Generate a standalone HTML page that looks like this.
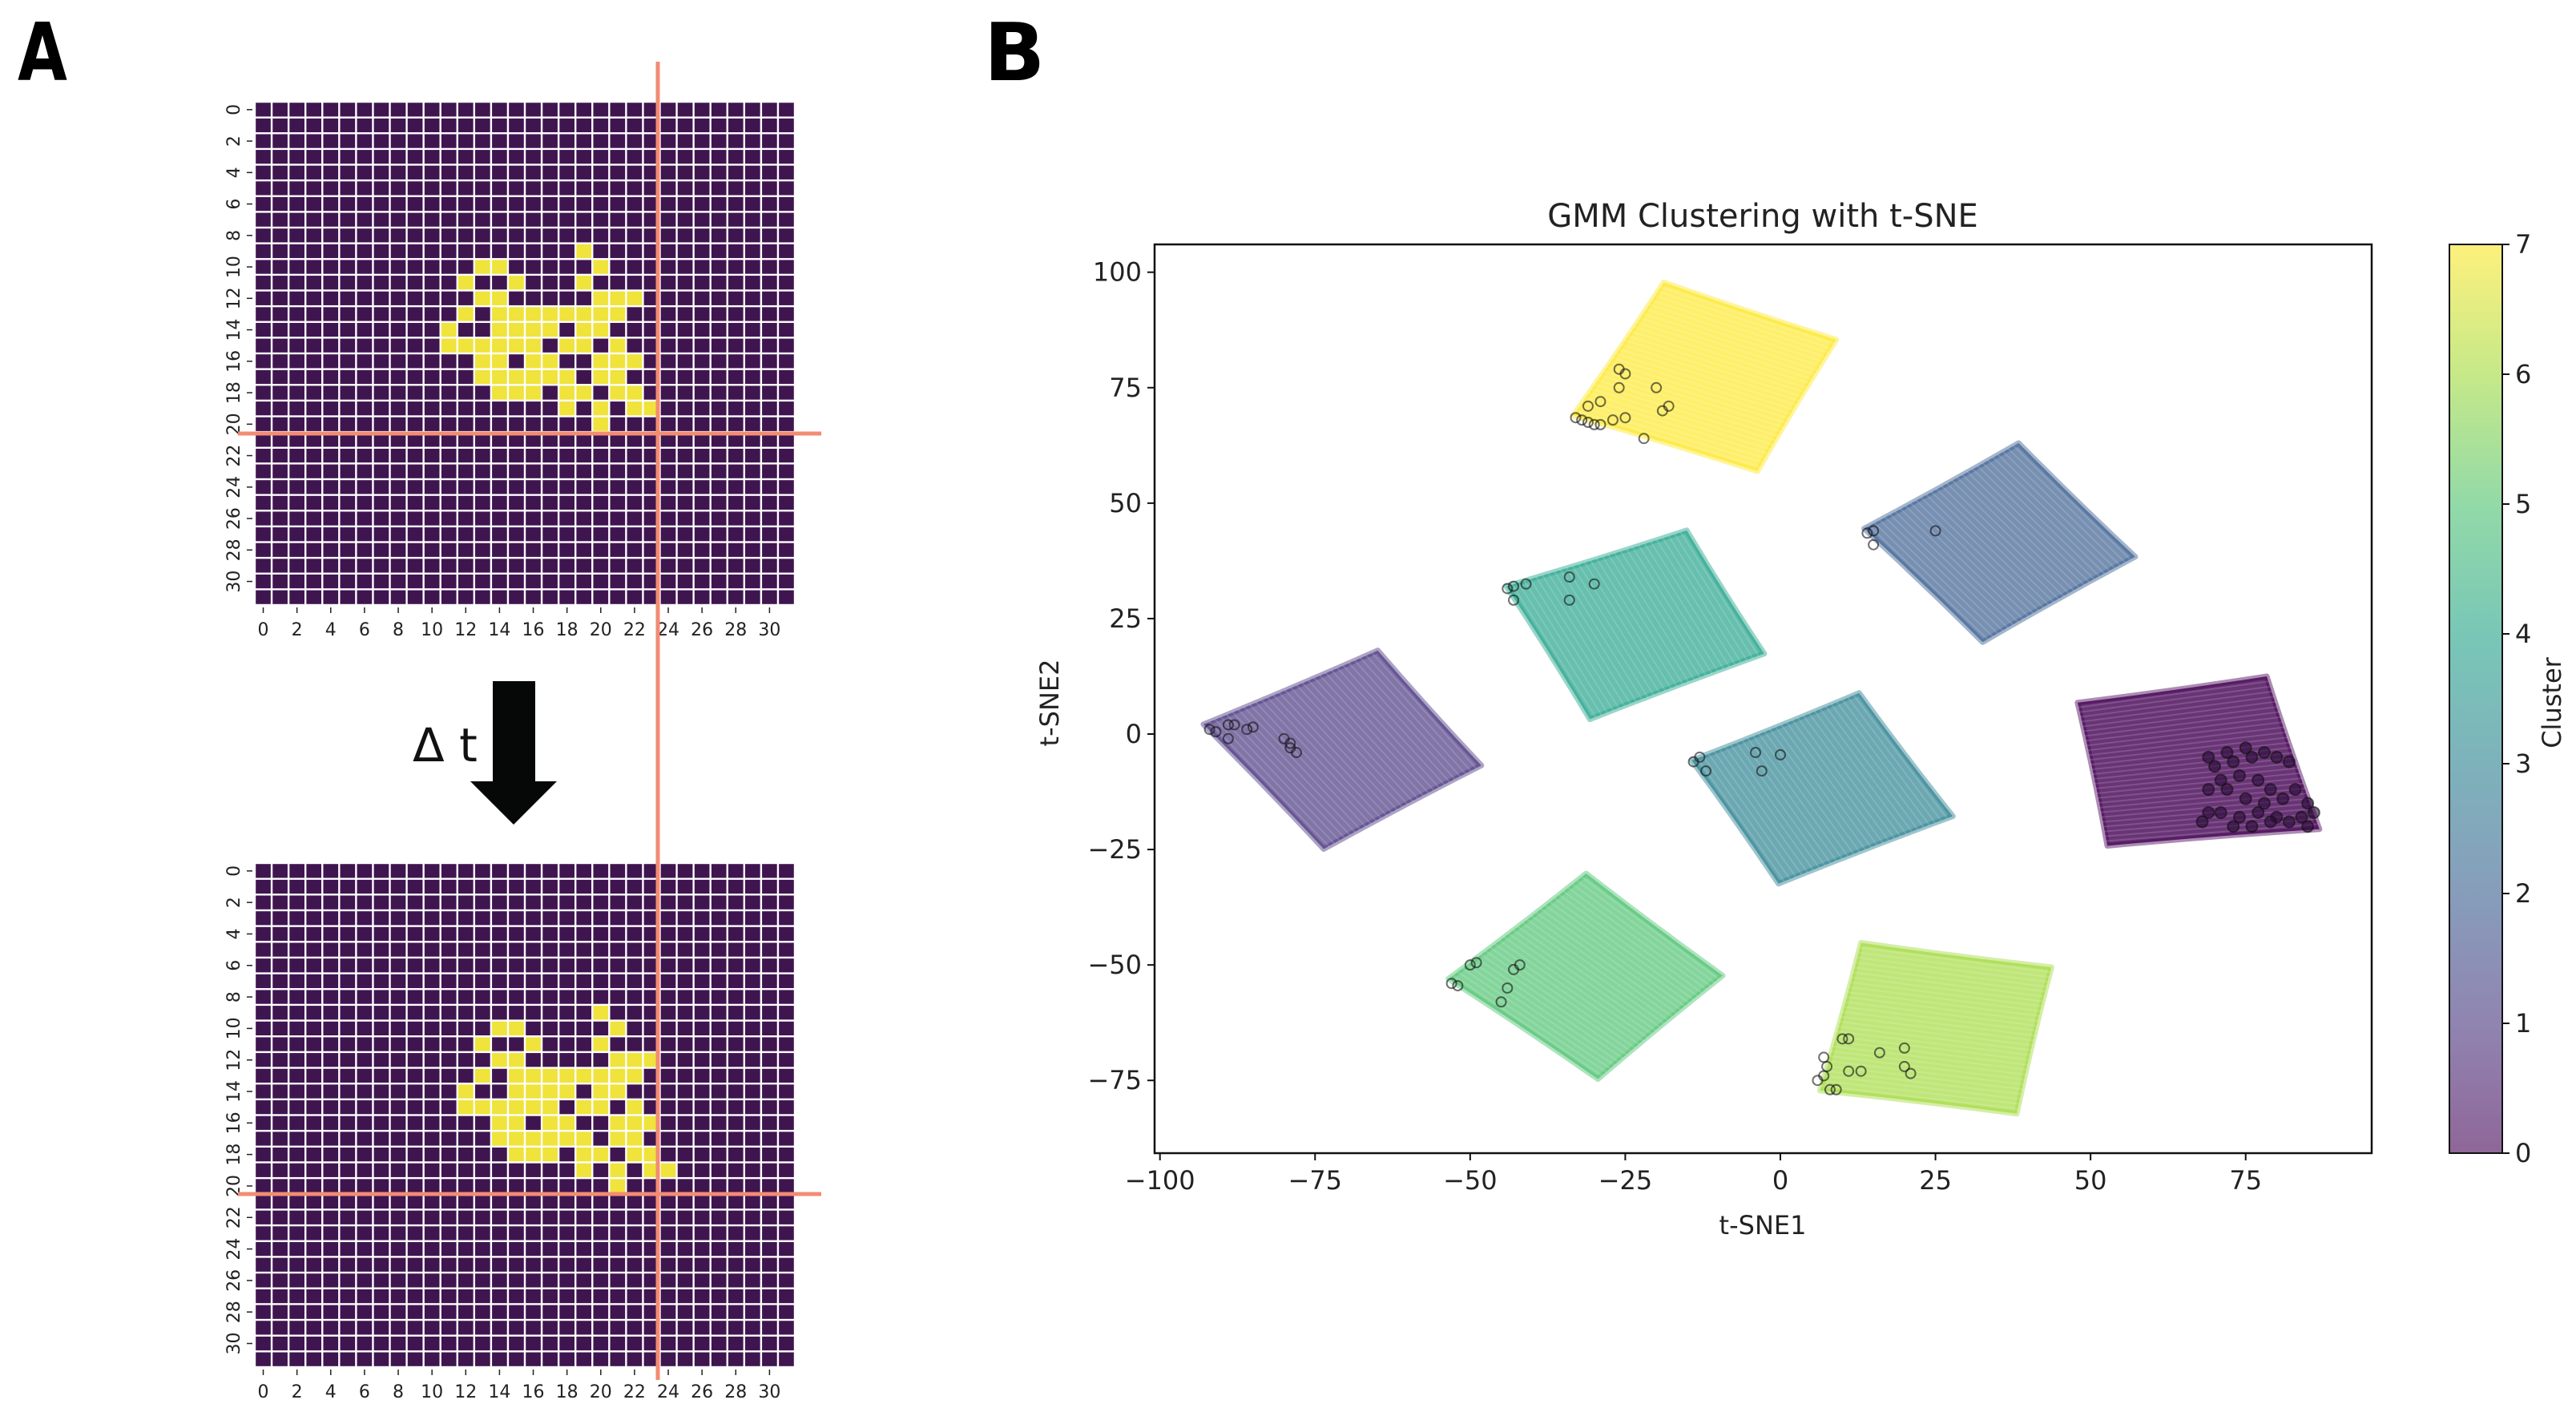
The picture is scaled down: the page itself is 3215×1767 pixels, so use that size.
<!DOCTYPE html>
<html><head><meta charset="utf-8"><style>
html,body{margin:0;padding:0;background:#fff;}
svg{display:block;font-family:"DejaVu Sans","Liberation Sans",sans-serif;}
</style></head><body>
<svg id="fig" width="3215" height="1767" viewBox="0 0 3215 1767" xmlns="http://www.w3.org/2000/svg">
<defs>
<linearGradient id="cbar" x1="0" y1="1" x2="0" y2="0">
<stop offset="0" stop-color="#440154"/><stop offset="0.143" stop-color="#46327e"/><stop offset="0.286" stop-color="#365c8d"/><stop offset="0.429" stop-color="#277f8e"/><stop offset="0.571" stop-color="#1fa187"/><stop offset="0.714" stop-color="#4ac16d"/><stop offset="0.857" stop-color="#a0da39"/><stop offset="1" stop-color="#fde725"/>
</linearGradient>
</defs>
<text x="0" y="0" transform="translate(22,100) scale(0.8,1)" font-size="100" font-weight="bold">A</text>
<text x="1228" y="100" font-size="100" font-weight="bold">B</text>
<g id="heatTop"></g>
<g id="heatBot"></g>
<g>
<rect x="615" y="850" width="53" height="127" fill="#050807"/>
<polygon points="587,975 695,975 641,1029" fill="#050807"/>
</g>
<text x="515" y="950" font-size="58" fill="#111">Δ t</text>
<line x1="821" y1="77" x2="821" y2="1722" stroke="#f28c73" stroke-width="5"/>
<line x1="297" y1="541" x2="1025" y2="541" stroke="#f28c73" stroke-width="5"/>
<line x1="297" y1="1490" x2="1025" y2="1490" stroke="#f28c73" stroke-width="5"/>
<g id="scatter"></g>
</svg>
<script>
// ---- heatmap data: yellow cells [row, col] ----
const gridSize = 32;
const cellsBefore = [[9,19],[10,13],[10,14],[10,20],[11,12],[11,15],[11,19],[12,13],[12,14],[12,20],[12,21],[12,22],
[13,12],[13,14],[13,15],[13,16],[13,17],[13,18],[13,19],[13,20],[13,21],
[14,11],[14,14],[14,15],[14,16],[14,17],[14,19],[14,20],
[15,11],[15,12],[15,13],[15,14],[15,15],[15,16],[15,18],[15,19],[15,21],
[16,13],[16,14],[16,16],[16,17],[16,20],[16,21],[16,22],
[17,13],[17,14],[17,15],[17,16],[17,17],[17,18],[17,20],[17,21],
[18,14],[18,15],[18,16],[18,18],[18,19],[18,21],[18,22],
[19,18],[19,20],[19,22],[19,23],[20,20]];
const cellsAfter = [[9,20],[10,14],[10,15],[10,21],[11,13],[11,16],[11,20],[12,14],[12,15],[12,21],[12,22],[12,23],
[13,13],[13,15],[13,16],[13,17],[13,18],[13,19],[13,20],[13,21],[13,22],
[14,12],[14,15],[14,16],[14,17],[14,18],[14,20],[14,21],
[15,12],[15,13],[15,14],[15,15],[15,16],[15,17],[15,19],[15,20],[15,22],
[16,14],[16,15],[16,17],[16,18],[16,21],[16,22],[16,23],
[17,14],[17,15],[17,16],[17,17],[17,18],[17,19],[17,21],[17,22],
[18,15],[18,16],[18,17],[18,19],[18,20],[18,22],[18,23],
[19,19],[19,21],[19,23],[19,24],[20,21]];
const heatTicks = [0,2,4,6,8,10,12,14,16,18,20,22,24,26,28,30];

// ---- scatter data ----
const clusterIds = [0,1,2,3,4,5,6,7];
const clusterColors = ["#440154","#46327e","#365c8d","#277f8e","#1fa187","#4ac16d","#a0da39","#fde725"];
const corners0 = [[47.9,6.8],[78.4,12.5],[86.9,-20.6],[52.7,-24.2]];
const corners1 = [[-64.9,18.1],[-48.2,-6.8],[-73.6,-24.9],[-93,2.1]];
const corners2 = [[38.4,63],[57.2,38.4],[32.6,19.9],[13.5,44.5]];
const corners3 = [[12.7,8.9],[27.8,-17.8],[-0.3,-32.4],[-14.3,-5.7]];
const corners4 = [[-15.1,44.1],[-2.6,17.4],[-30.7,3.2],[-44.2,32.0]];
const corners5 = [[-31.3,-30.2],[-9.3,-52.3],[-29.4,-74.7],[-53.5,-53]];
const corners6 = [[13,-45.2],[43.7,-50.5],[38.1,-82.2],[6.4,-77.2]];
const corners7 = [[-18.8,97.8],[9.0,85.4],[-3.7,56.9],[-33.4,69.0]];
const marks0 = [[69,-5],[70,-7],[72,-4],[73,-6],[75,-3],[76,-5],[74,-9],[71,-10],[69,-12],[72,-12],[78,-4],[80,-5],[82,-6],[77,-10],[79,-12],[81,-14],[83,-12],[85,-15],[86,-17],[84,-18],[80,-18],[77,-17],[74,-18],[71,-17],[69,-17],[68,-19],[73,-20],[76,-20],[79,-19],[82,-19],[85,-20],[75,-14],[78,-15]];
const marks1 = [[-92,1],[-91,0.5],[-89,2],[-88,2],[-86,1],[-85,1.5],[-89,-1],[-80,-1],[-79,-2],[-79,-3],[-78,-4]];
const marks2 = [[14,43.5],[15,44],[15,41],[25,44]];
const marks3 = [[-14,-6],[-13,-5],[-12,-8],[-4,-4],[-3,-8],[0,-4.5]];
const marks4 = [[-44,31.5],[-43,32],[-41,32.5],[-43,29],[-34,34],[-34,29],[-30,32.5]];
const marks5 = [[-53,-54],[-52,-54.5],[-50,-50],[-49,-49.5],[-43,-51],[-42,-50],[-44,-55],[-45,-58]];
const marks6 = [[7,-70],[7.5,-72],[6,-75],[8,-77],[9,-77],[7,-74],[10,-66],[11,-66],[11,-73],[13,-73],[16,-69],[20,-68],[20,-72],[21,-73.5]];
const marks7 = [[-33,68.5],[-32,68],[-31,67.5],[-30,67],[-29,67],[-27,68],[-25,68.5],[-31,71],[-29,72],[-26,75],[-26,79],[-25,78],[-20,75],[-18,71],[-19,70],[-22,64]];
const xTicks = [-100,-75,-50,-25,0,25,50,75];
const yTicks = [-75,-50,-25,0,25,50,75,100];
const cbarTicks = [0,1,2,3,4,5,6,7];

const NS = "http://www.w3.org/2000/svg";
function mk(tag, attrs, parent){const e=document.createElementNS(NS,tag);for(const k in attrs)e.setAttribute(k,attrs[k]);parent.appendChild(e);return e;}

function drawHeat(g, cells, x0, y0, w, h){
  const cw = w/gridSize, ch = h/gridSize;
  const bg = mk('rect',{x:x0,y:y0,width:w,height:h,fill:'#fff'},g);
  
  
  const on = new Set(cells.map(c=>c[0]+','+c[1]));
  for(let r=0;r<gridSize;r++)for(let c=0;c<gridSize;c++){
    const cell = mk('rect',{x:x0+c*cw+1.2,y:y0+r*ch+1.2,width:cw-2.4,height:ch-2.4,fill:on.has(r+','+c)?'#efe33c':'#3f154f'},g);
    
    
  }
  heatTicks.forEach(t=>{
    const x = x0+(t+0.5)*cw, y = y0+(t+0.5)*ch;
    mk('line',{x1:x,y1:y0+h+3,x2:x,y2:y0+h+10,stroke:'#222','stroke-width':1.5},g);
    const tx = mk('text',{x:x,y:y0+h+38,'font-size':22,'text-anchor':'middle',fill:'#222'},g);
    tx.textContent = t;
    
    
    mk('line',{x1:x0-10,y1:y,x2:x0-3,y2:y,stroke:'#222','stroke-width':1.5},g);
    const ty = mk('text',{x:0,y:0,'font-size':22,'text-anchor':'middle',fill:'#222',transform:`translate(${x0-19},${y}) rotate(-90)`},g);
    ty.textContent = t;
    
    
  });
}
drawHeat(document.getElementById('heatTop'), cellsBefore, 318, 127, 674, 628);
drawHeat(document.getElementById('heatBot'), cellsAfter, 318, 1077, 674, 629);

const sg = document.getElementById('scatter');
const PL=1441, PR=2960, PT=305, PB=1439;
const sx = v => 2222 + v*7.743;
const sy = v => 916 - v*5.763;
const allCorners = [corners0,corners1,corners2,corners3,corners4,corners5,corners6,corners7];
const allMarks = [marks0,marks1,marks2,marks3,marks4,marks5,marks6,marks7];
clusterIds.forEach(i=>{
  const cs = allCorners[i].map(p=>[sx(p[0]),sy(p[1])]);
  const cx = cs.reduce((s,p)=>s+p[0],0)/4, cy = cs.reduce((s,p)=>s+p[1],0)/4;
  let d = 'M'+cs[0][0]+','+cs[0][1];
  for(let k=0;k<4;k++){
    const p=cs[k], q=cs[(k+1)%4];
    const mx=(p[0]+q[0])/2, my=(p[1]+q[1])/2;
    const ctrlX = mx+(cx-mx)*0.02, ctrlY = my+(cy-my)*0.02;
    d += ` Q${ctrlX},${ctrlY} ${q[0]},${q[1]}`;
  }
  d += 'Z';
  const poly = mk('path',{d:d,fill:clusterColors[i],'fill-opacity':i===0?0.8:0.68,stroke:clusterColors[i],'stroke-opacity':0.45,'stroke-width':7,'stroke-linejoin':'round'},sg);
  
  
  const N=30;
  for(let k=1;k<N;k++){
    const t=k/N;
    const a=[cs[0][0]+(cs[3][0]-cs[0][0])*t, cs[0][1]+(cs[3][1]-cs[0][1])*t];
    const b=[cs[1][0]+(cs[2][0]-cs[1][0])*t, cs[1][1]+(cs[2][1]-cs[1][1])*t];
    mk('line',{x1:a[0],y1:a[1],x2:b[0],y2:b[1],stroke:'#fff','stroke-opacity':0.15,'stroke-width':2},sg);
  }
  allMarks[i].forEach(p=>{
    const c = mk('circle',{cx:sx(p[0]),cy:sy(p[1]),r:i===0?7:6,fill:i===0?'#2a0a3a':'none','fill-opacity':0.6,stroke:'#111','stroke-opacity':0.6,'stroke-width':2},sg);
    
    
  });
});
const frame = mk('rect',{x:PL,y:PT,width:PR-PL,height:PB-PT,fill:'none',stroke:'#111','stroke-width':2.5},sg);


xTicks.forEach(t=>{
  const x=sx(t);
  mk('line',{x1:x,y1:PB,x2:x,y2:PB+9,stroke:'#111','stroke-width':2},sg);
  const tx=mk('text',{x:x,y:PB+45,'font-size':32,'text-anchor':'middle',fill:'#222'},sg);
  tx.textContent = t<0?'\u2212'+Math.abs(t):t;
  
  
});
yTicks.forEach(t=>{
  const y=sy(t);
  mk('line',{x1:PL-9,y1:y,x2:PL,y2:y,stroke:'#111','stroke-width':2},sg);
  const ty=mk('text',{x:PL-16,y:y+11,'font-size':32,'text-anchor':'end',fill:'#222'},sg);
  ty.textContent = t<0?'\u2212'+Math.abs(t):t;
  
  
});
const title=mk('text',{x:2200,y:283,'font-size':40,'text-anchor':'middle',fill:'#222'},sg);
title.textContent='GMM Clustering with t-SNE';


const xl=mk('text',{x:2200,y:1540,'font-size':32,'text-anchor':'middle',fill:'#222'},sg);
xl.textContent='t-SNE1';


const yl=mk('text',{x:0,y:0,'font-size':32,'text-anchor':'middle',fill:'#222',transform:'translate(1321,877) rotate(-90)'},sg);
yl.textContent='t-SNE2';


const CBL=3057, CBR=3123, CBT=305, CBB=1439;
const cb=mk('rect',{x:CBL,y:CBT,width:CBR-CBL,height:CBB-CBT,fill:'url(#cbar)','fill-opacity':0.6,stroke:'#111','stroke-width':2},sg);


cbarTicks.forEach(t=>{
  const y=CBB-(t/7)*(CBB-CBT);
  mk('line',{x1:CBR,y1:y,x2:CBR+9,y2:y,stroke:'#111','stroke-width':2},sg);
  const tt=mk('text',{x:CBR+16,y:y+11,'font-size':32,fill:'#222'},sg);
  tt.textContent=t;
  
  
});
const cl=mk('text',{x:0,y:0,'font-size':32,'text-anchor':'middle',fill:'#222',transform:'translate(3196,877) rotate(-90)'},sg);
cl.textContent='Cluster';


</script>
</body></html>
